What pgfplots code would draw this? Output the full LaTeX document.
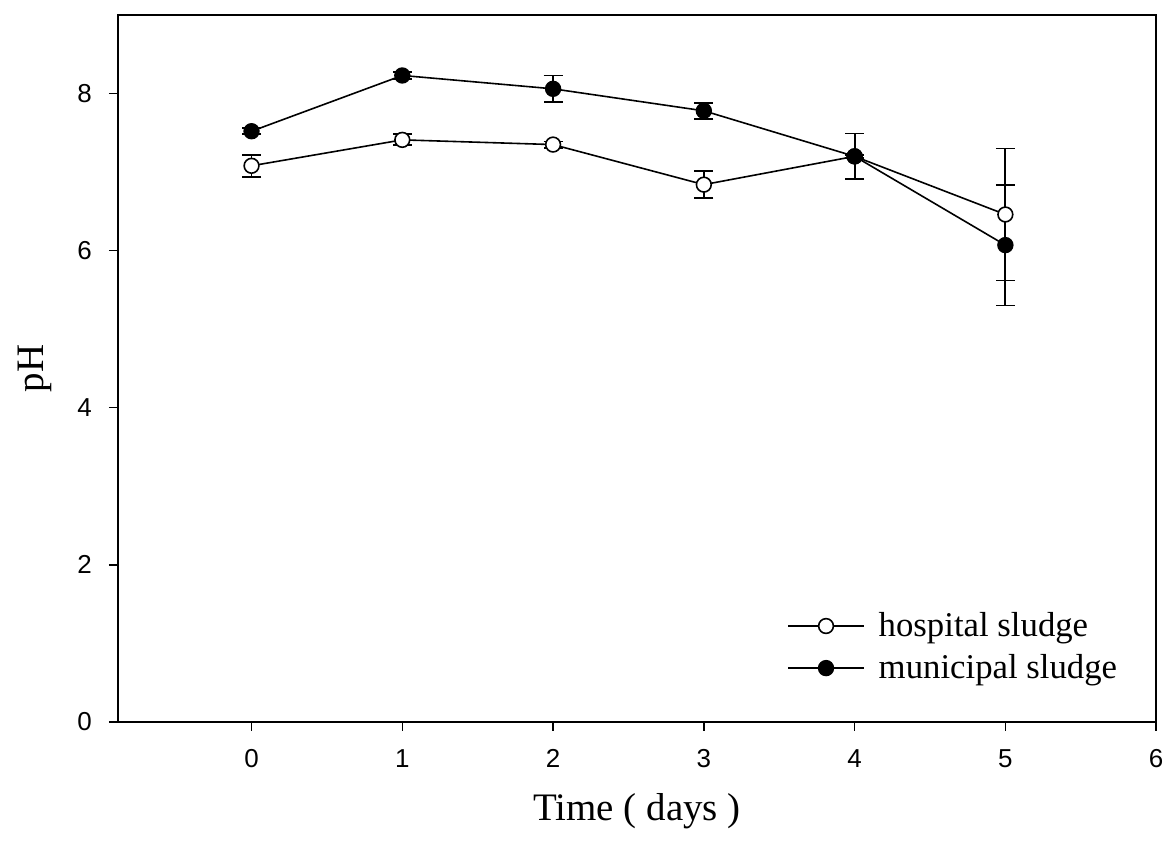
\documentclass[border=0pt]{standalone}
\usepackage{fontspec}
\setmainfont{Liberation Serif}
\newfontfamily\arial{Liberation Sans}
\usepackage{pgfplots}
\pgfplotsset{compat=1.18}
\begin{document}
\begin{tikzpicture}
\begin{axis}[
  at={(0pt,0pt)}, anchor=south west,
  scale only axis, width=520pt, height=354pt,
  xmin=-0.887, xmax=6, ymin=0, ymax=9,
  xtick={0,1,2,3,4,5,6}, ytick={0,2,4,6,8},
  tick align=outside, tick pos=left,
  major tick length=4.5pt,
  axis line style={line width=0.8pt},
  tick style={line width=0.8pt, black},
  tick label style={font=\arial\fontsize{13}{15}\selectfont},
  /pgf/number format/assume math mode=true,
  xticklabel style={yshift=-6pt},
  yticklabel style={xshift=-5pt},
  xlabel={Time ( days )}, ylabel={pH},
  label style={font=\fontsize{19.5}{22}\selectfont},
  xlabel style={yshift=-6pt},
  ylabel style={yshift=6pt},
  legend style={at={(0.982,0.045)}, anchor=south east, draw=none, fill=none,
    font=\fontsize{17.4}{20}\selectfont, row sep=3.5pt,
    nodes={inner xsep=7pt}},
  legend cell align=left,
  legend image code/.code={
    \draw[line width=0.8pt] (0pt,0pt) -- (38pt,0pt);
    \draw[#1, line width=0.8pt] plot coordinates {(19pt,0pt)};
  },
]
\addplot[black, line width=0.8pt, mark=*, mark size=3.7pt,
  mark options={fill=white, line width=0.8pt},
  error bars/.cd, y dir=both, y explicit,
  error mark options={rotate=90, mark size=4.75pt, line width=0.9pt},
  error bar style={line width=0.9pt}]
coordinates {
 (0,7.08) +- (0,0.14)
 (1,7.41) +- (0,0.07)
 (2,7.35) +- (0,0.04)
 (3,6.84) +- (0,0.17)
 (4,7.20) +- (0,0.02)
 (5,6.46) +- (0,0.84)
};
\addlegendentry{hospital sludge}
\addplot[black, line width=0.8pt, mark=*, mark size=3.7pt,
  mark options={fill=black},
  error bars/.cd, y dir=both, y explicit,
  error mark options={rotate=90, mark size=4.75pt, line width=0.9pt},
  error bar style={line width=0.9pt}]
coordinates {
 (0,7.52) +- (0,0.04)
 (1,8.23) +- (0,0.04)
 (2,8.06) +- (0,0.17)
 (3,7.78) +- (0,0.10)
 (4,7.20) +- (0,0.29)
 (5,6.07) +- (0,0.77)
};
\addlegendentry{municipal sludge}
\end{axis}
\path (-59pt,-60pt) rectangle (526pt,361.5pt);
\end{tikzpicture}
\end{document}
